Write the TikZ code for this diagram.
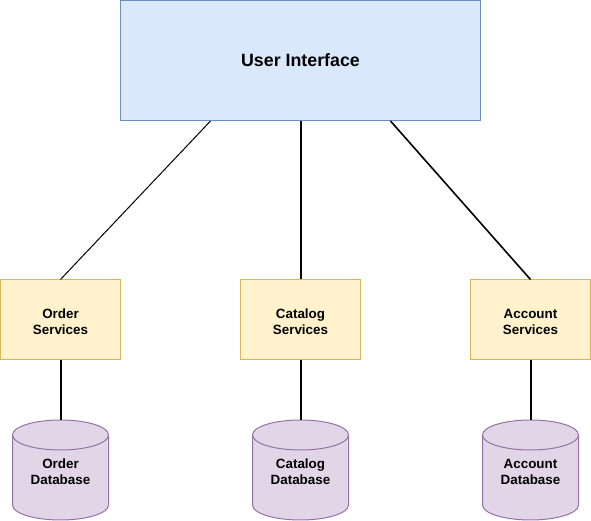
\documentclass[tikz,border=0pt]{standalone}
\usepackage{fontspec}
\setmainfont{Liberation Sans}
\definecolor{uifill}{HTML}{DAE8FC}
\definecolor{uistroke}{HTML}{6C8EBF}
\definecolor{svcfill}{HTML}{FFF2CC}
\definecolor{svcstroke}{HTML}{D6B656}
\definecolor{dbfill}{HTML}{E1D5E7}
\definecolor{dbstroke}{HTML}{9673A6}
\begin{document}
\begin{tikzpicture}[x=1pt,y=1pt,
  uibox/.style={draw=uistroke, fill=uifill, line width=1pt, minimum width=360pt, minimum height=120pt, inner sep=0pt,
    font=\fontsize{17.8}{20}\selectfont\bfseries},
  svcbox/.style={draw=svcstroke, fill=svcfill, line width=1pt, minimum width=120pt, minimum height=80pt, inner sep=0pt},
  svctext/.style={align=center, inner sep=0pt, yshift=-1.5pt, font=\fontsize{13.4}{16}\selectfont\bfseries},
  dbbody/.style={draw=dbstroke, fill=dbfill, line width=1pt},
  dblabel/.style={align=center, inner sep=0pt, font=\fontsize{13.4}{16}\selectfont\bfseries},
  link/.style={draw=black, line width=1pt},
  boldlink/.style={link, line width=2pt}]
\useasboundingbox (0,0) rectangle (591,521);

% top layer
\node[uibox] (ui) at (300.5,460.5) {User Interface};

% service layer
\node[svcbox, label={[svctext]center:Order\\Services}]     (order)   at (60.5,201)  {};
\node[svcbox, label={[svctext]center:Catalog\\Services}]   (catalog) at (300.5,201) {};
\node[svcbox, label={[svctext]center:Account\\Services}]   (account) at (530.5,201) {};

% databases: cylinder of width 96, top ellipse at y=86, bottom ellipse at y=16
\foreach \name/\cx/\ta/\tb in {odb/60.5/Order/Database, cdb/300.5/Catalog/Database, adb/530.5/Account/Database}{
  \path[dbbody] (\cx-48,86) -- (\cx-48,16) arc[start angle=180, end angle=360, x radius=48, y radius=15]
        -- (\cx+48,86) arc[start angle=0, end angle=180, x radius=48, y radius=15] -- cycle;
  \path[dbbody, fill=none] (\cx-48,86) arc[start angle=180, end angle=360, x radius=48, y radius=15];
  \coordinate (\name top) at (\cx,101);
  \node[dblabel] (\name) at (\cx,49) {\ta\\\tb};
}

% connectors
\draw[link] ([xshift=-90pt]ui.south) -- (order.north);
\draw[boldlink] (ui.south) -- (catalog.north);
\draw[link, line width=1.6pt] ([xshift=90pt]ui.south) -- (account.north);
\draw[boldlink] (order.south) -- (odbtop);
\draw[boldlink] (catalog.south) -- (cdbtop);
\draw[boldlink] (account.south) -- (adbtop);
\end{tikzpicture}
\end{document}
